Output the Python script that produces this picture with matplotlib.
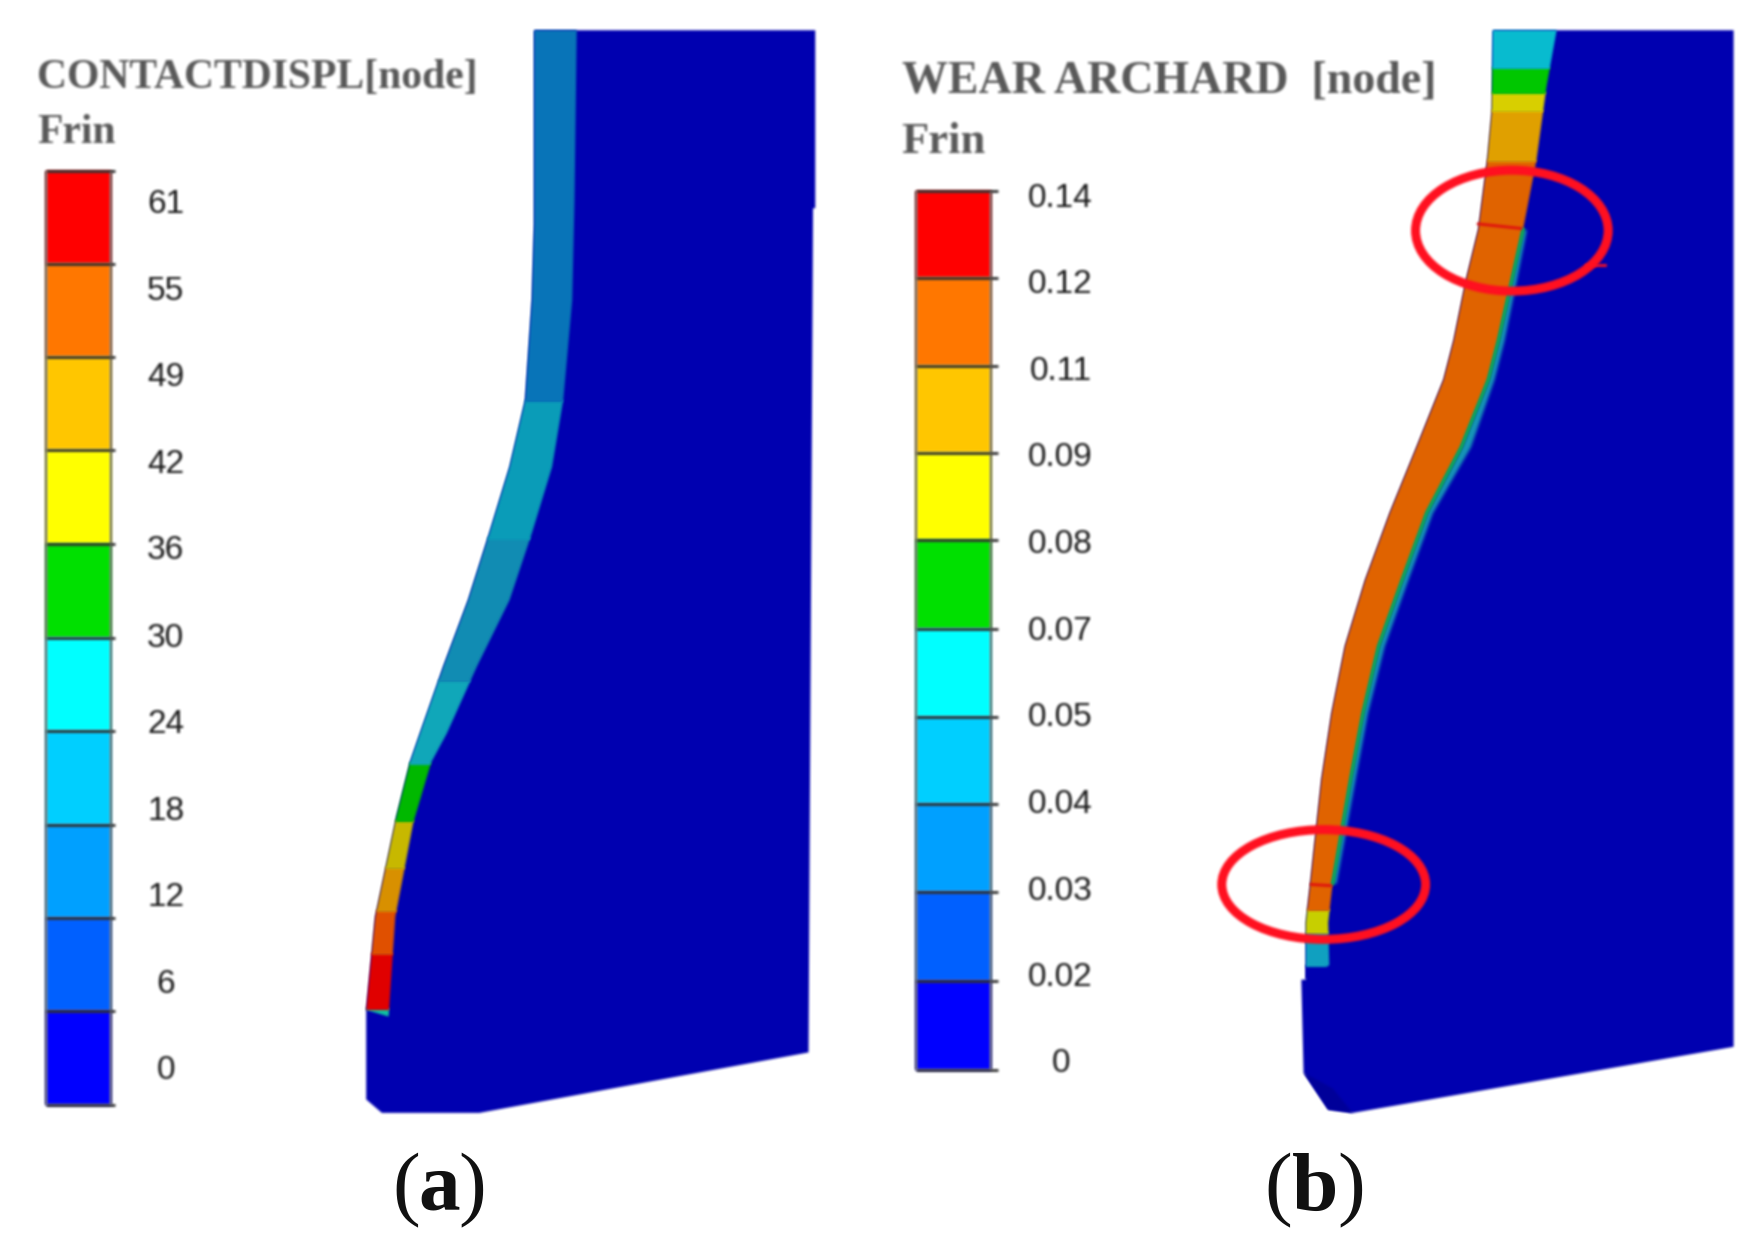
import numpy as np
from matplotlib import pyplot as plt
from matplotlib.patches import Ellipse, Polygon

# everything below in 1568x1112 coordinates
legend_a_title = "CONTACTDISPL[node]"
legend_b_title = "WEAR ARCHARD  [node]"
legend_sub = "Frin"

bar_colors = ['#ff0000', '#ff7800', '#ffc800', '#ffff00', '#00e000',
              '#00ffff', '#00d0ff', '#00a0ff', '#0060ff', '#0000ff']

a_labels = ['61', '55', '49', '42', '36', '30', '24', '18', '12', '6', '0']
a_label_y = [183, 260, 337, 415, 492, 570, 647, 725, 802, 879, 956]
a_bounds = [153, 236, 319, 402, 486, 570, 653, 737, 820, 903, 987]

b_labels = ['0.14', '0.12', '0.11', '0.09', '0.08', '0.07', '0.05', '0.04', '0.03', '0.02', '0']
b_label_y = [177, 254, 332, 409, 486, 564, 641, 719, 796, 873, 950]
b_bounds = [171, 248, 327, 405, 482, 562, 640, 718, 797, 876, 956]

# part (a): body and contact strip
a_left_y = [27, 200, 268, 357, 417, 476, 536, 595, 655, 681, 729, 819, 902]
a_left_x = [477, 477, 475, 469, 455, 437, 418, 396, 375, 366, 354, 335, 327]
a_right_y = [27, 180, 268, 357, 417, 476, 536, 595, 655, 681, 735, 819, 908]
a_right_x = [515, 513, 511, 503, 493, 475, 455, 426, 399, 385, 369, 353, 347]
a_body_x = [728, 728, 726, 722, 428, 341, 327]
a_body_y = [27, 186, 186, 940, 994, 994, 982]
a_band_y = [27, 357, 480, 607, 681, 732, 774, 813, 851, 900, 908]
a_band_c = ['#0875b8', '#0a9cb8', '#118cb4', '#10a8ba', '#00b800',
            '#c8b800', '#d89000', '#e05000', '#e00000', '#10c0a0']

# part (b): body and wear strip
b_left_y = [27, 100, 143, 205, 250, 304, 339, 399, 458, 518, 577, 637, 696, 789, 824, 875]
b_left_x = [1333, 1332, 1328, 1320, 1309, 1298, 1289, 1265, 1241, 1219, 1201, 1189, 1180, 1170, 1166, 1166]
b_right_y = [27, 77, 143, 205, 250, 304, 339, 399, 458, 518, 577, 637, 696, 789, 824, 862]
b_right_x = [1390, 1381, 1372, 1360, 1350, 1338, 1329, 1305, 1274, 1252, 1231, 1217, 1206, 1190, 1186, 1187]
b_body_x = [1548, 1548, 1208, 1186, 1164, 1162]
b_body_y = [27, 935, 994, 991, 958, 875]
b_band_y = [27, 60, 82, 98, 143, 812, 832, 840, 862, 876]
b_band_c = ['#08bcd0', '#00c800', '#d8d000', '#e0a000', '#e06400', '#c8d000', '#10a0b0', '#10a0c0', '#0000b0']
# outer limit of the teal fringe, same y rows as b_right_y from y=205 to y=789
b_fringe_x = [1363, 1354, 1343, 1334, 1313, 1279, 1257, 1236, 1221, 1210, 1193]
b_corner_x = [1164, 1186, 1208, 1190]
b_corner_y = [958, 991, 994, 972]

body_color = '#0000b0'
corner_color = '#00009a'
circle_color = '#ff1020'


def soft(image, dpi):
    # the source is a scaled screenshot, so edges are blurred a little
    pad = 6
    img = np.pad(image, ((pad, pad), (pad, pad), (0, 0)))
    alpha = img[..., 3:]
    pre = np.concatenate([img[..., :3] * alpha, alpha], axis=2)
    kernel = np.array([1, 2, 3, 2, 1]) / 9.0
    for axis in (0, 1):
        pre = np.apply_along_axis(lambda v: np.convolve(v, kernel, mode='same'), axis, pre)
    alpha = pre[..., 3:]
    rgb = pre[..., :3] / np.maximum(alpha, 1e-4)
    return np.clip(np.concatenate([rgb, alpha], axis=2), 0, 1), -pad, -pad


fig = plt.figure(figsize=(17.56, 12.45), dpi=100)
ax = fig.add_axes([0, 0, 1, 1])
ax.set_xlim(0, 1568)
ax.set_ylim(1112, 0)
ax.set_axis_off()


def draw_legend(x0, x1, tick_end, bounds, labels, label_y, label_x):
    for k, c in enumerate(bar_colors):
        ax.fill_between([x0, x1], bounds[k], bounds[k + 1], color=c, lw=0, zorder=2, agg_filter=soft)
    ax.hlines(bounds, x0, tick_end, color='#1a1a1a', lw=1.8, zorder=3, agg_filter=soft)
    ax.vlines([x0, x1], bounds[0], bounds[-1], color='#555555', lw=1.4, zorder=3, agg_filter=soft)
    for lab, y in zip(labels, label_y):
        ax.text(label_x, y, lab, ha='center', va='center', fontsize=24,
                family='Liberation Sans', color='#1a1a1a', agg_filter=soft)


def draw_part(left_x, left_y, right_x, right_y, body_x, body_y, band_y, band_c):
    strip = np.column_stack([list(left_x) + list(right_x)[::-1], list(left_y) + list(right_y)[::-1]])
    outline = np.column_stack([[left_x[0], right_x[0]] + list(body_x) + list(left_x)[::-1],
                               [27, 27] + list(body_y) + list(left_y)[::-1]])
    ax.add_patch(Polygon(outline, closed=True, fc=body_color, ec='none', zorder=1, agg_filter=soft))
    clip = Polygon(strip, closed=True, transform=ax.transData)
    # painted bottom band first, each one a bit long so no seam shows
    for k in range(len(band_c) - 1, -1, -1):
        bar = ax.barh(band_y[k], 1568, height=band_y[k + 1] - band_y[k] + 2, align='edge',
                      color=band_c[k], lw=0, zorder=2)[0]
        bar.set_clip_path(clip)
        bar.set_agg_filter(soft)


draw_part(a_left_x, a_left_y, a_right_x, a_right_y, a_body_x, a_body_y, a_band_y, a_band_c)
draw_part(b_left_x, b_left_y, b_right_x, b_right_y, b_body_x, b_body_y, b_band_y, b_band_c)
ax.fill(b_corner_x, b_corner_y, color=corner_color, lw=0, zorder=1.2, agg_filter=soft)

# thin green seam and teal fringe on the inner side of the worn strip
ax.fill_betweenx(b_right_y[3:14], b_right_x[3:14], b_fringe_x, color='#1898b8', lw=0, zorder=1.5, agg_filter=soft)
ax.plot(b_right_x[3:14], b_right_y[3:14], color='#00b060', lw=2.5, zorder=3, agg_filter=soft)

# red marks inside the circles
ax.plot([1320, 1358], [200, 204], color='#e01010', lw=2, zorder=3, agg_filter=soft)
ax.plot([1171, 1188], [790, 791], color='#e01010', lw=2, zorder=3, agg_filter=soft)

draw_legend(41, 99, 103, a_bounds, a_labels, a_label_y, 148)
draw_legend(818, 885, 891, b_bounds, b_labels, b_label_y, 947)

ax.add_patch(Ellipse((1350, 206), 172, 108, fc='none', ec=circle_color, lw=6.5, zorder=5, agg_filter=soft))
ax.add_patch(Ellipse((1182, 790), 182, 98, fc='none', ec=circle_color, lw=6.5, zorder=5, agg_filter=soft))
ax.plot([1416, 1433], [237, 237], color=circle_color, lw=2, zorder=5, agg_filter=soft)

for x, y, s, size in [(33, 70, legend_a_title, 30), (33, 119, legend_sub, 30),
                      (805, 73, legend_b_title, 33), (805, 127, legend_sub, 32)]:
    ax.text(x, y, s, ha='left', va='center', fontsize=size, family='Liberation Serif',
            fontweight='bold', color='#5a5a5a', agg_filter=soft)

for x, half, lab in [(392, 17, 'a'), (1174, 20, 'b')]:
    ax.text(x - half, 1063, '(', ha='right', va='center', fontsize=60, family='Liberation Serif', color='#111111')
    ax.text(x, 1063, lab, ha='center', va='center', fontsize=60, family='Liberation Serif',
            fontweight='bold', color='#111111')
    ax.text(x + half, 1063, ')', ha='left', va='center', fontsize=60, family='Liberation Serif', color='#111111')

fig.savefig('out.png', dpi=100)
plt.close(fig)
